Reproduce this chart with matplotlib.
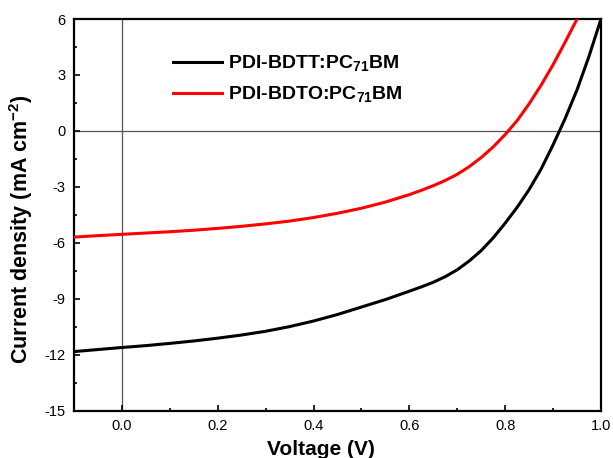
import matplotlib
matplotlib.use("Agg")
import matplotlib.pyplot as plt
from matplotlib.ticker import MultipleLocator

plt.rcParams["font.family"] = ["Liberation Sans", "DejaVu Sans"]
plt.rcParams["mathtext.fontset"] = "custom"
plt.rcParams["mathtext.rm"] = "Liberation Sans"
plt.rcParams["mathtext.bf"] = "Liberation Sans:bold"

# J-V curves
voltage_bdtt = [-0.10, -0.05, 0.00, 0.05, 0.10, 0.15, 0.20, 0.25, 0.30, 0.35,
                0.40, 0.45, 0.50, 0.55, 0.60, 0.625, 0.65, 0.675, 0.70, 0.725,
                0.75, 0.775, 0.80, 0.825, 0.85, 0.875, 0.90, 0.925, 0.95,
                0.975, 1.00]
current_bdtt = [-11.84, -11.73, -11.62, -11.52, -11.40, -11.27, -11.12, -10.95,
                -10.75, -10.50, -10.20, -9.85, -9.45, -9.05, -8.60, -8.37,
                -8.12, -7.82, -7.45, -6.98, -6.42, -5.74, -4.95, -4.10, -3.15,
                -2.05, -0.75, 0.65, 2.20, 4.00, 6.00]

voltage_bdto = [-0.10, -0.05, 0.00, 0.05, 0.10, 0.15, 0.20, 0.25, 0.30, 0.35,
                0.40, 0.45, 0.50, 0.55, 0.60, 0.625, 0.65, 0.675, 0.70, 0.725,
                0.75, 0.775, 0.80, 0.825, 0.85, 0.875, 0.90, 0.925, 0.95]
current_bdto = [-5.70, -5.62, -5.55, -5.48, -5.41, -5.33, -5.23, -5.12, -4.99,
                -4.84, -4.65, -4.42, -4.15, -3.82, -3.42, -3.19, -2.94, -2.66,
                -2.33, -1.92, -1.43, -0.86, -0.20, 0.55, 1.45, 2.45, 3.55,
                4.75, 6.00]

label_bdtt = r"PDI-BDTT:PC$_{\mathbf{71}}$BM"
label_bdto = r"PDI-BDTO:PC$_{\mathbf{71}}$BM"

fig = plt.figure(figsize=(6.13, 4.58), dpi=100)
ax = fig.add_axes([0.1207, 0.1037, 0.8597, 0.8548])

ax.axvline(0, color="#555555", lw=0.9, zorder=1)
ax.axhline(0, color="#555555", lw=0.9, zorder=1)

ax.plot(voltage_bdtt, current_bdtt, color="black", lw=2.2, label=label_bdtt, zorder=3)
ax.plot(voltage_bdto, current_bdto, color="red", lw=2.2, label=label_bdto, zorder=3)

ax.set_xlim(-0.1, 1.0)
ax.set_ylim(-15, 6)
ax.xaxis.set_major_locator(MultipleLocator(0.2))
ax.xaxis.set_minor_locator(MultipleLocator(0.1))
ax.yaxis.set_major_locator(MultipleLocator(3))
ax.yaxis.set_minor_locator(MultipleLocator(1.5))
ax.xaxis.set_major_formatter(plt.FuncFormatter(lambda v, p: f"{v:.1f}"))
ax.yaxis.set_major_formatter(plt.FuncFormatter(lambda v, p: f"{v:.0f}"))

ax.tick_params(which="both", direction="in", top=False, right=False,
               labelsize=10.5, width=1.2, pad=6)
ax.tick_params(which="major", length=4)
ax.tick_params(which="minor", length=2.5)
for s in ax.spines.values():
    s.set_linewidth(1.6)

ax.set_xlabel("Voltage (V)", fontsize=15, fontweight="bold")
ax.xaxis.set_label_coords(0.469, -0.076)
ax.set_ylabel(r"Current density (mA cm$^{\mathbf{-2}}$)", fontsize=15.5,
              fontweight="bold")
ax.yaxis.set_label_coords(-0.074, 0.462)

ax.legend(loc="upper left", bbox_to_anchor=(0.155, 0.955), frameon=False,
          prop={"weight": "bold", "size": 14}, handlelength=2.5,
          handletextpad=0.3, labelspacing=0.55)

fig.savefig("out.png", dpi=100)
